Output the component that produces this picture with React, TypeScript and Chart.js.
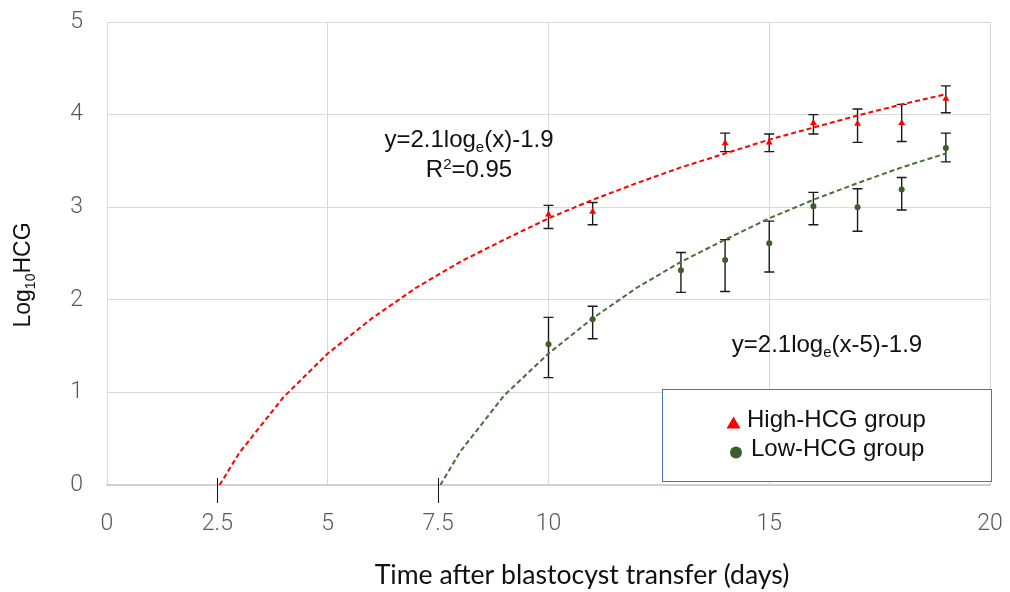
import React, { useEffect, useRef } from "react";
import { Chart, registerables } from "chart.js";
Chart.register(...registerables);

// ---- data ----
const xTickValues = [0, 2.5, 5, 7.5, 10, 15, 20];
const xGridValues = [0, 5, 10, 15, 20];
const xMarkValues = [2.5, 7.5];

const highX = [10, 11, 14, 15, 16, 17, 18, 19];
const highY = [2.92, 2.95, 3.69, 3.7, 3.91, 3.9, 3.91, 4.17];
const highHi = [3.02, 3.05, 3.8, 3.79, 4.0, 4.06, 4.11, 4.31];
const highLo = [2.77, 2.81, 3.6, 3.6, 3.79, 3.7, 3.71, 4.02];

const lowX = [10, 11, 13, 14, 15, 16, 17, 18, 19];
const lowY = [1.52, 1.79, 2.32, 2.43, 2.61, 3.01, 3.0, 3.19, 3.64];
const lowHi = [1.81, 1.93, 2.51, 2.65, 2.85, 3.16, 3.2, 3.32, 3.8];
const lowLo = [1.16, 1.58, 2.08, 2.09, 2.3, 2.81, 2.74, 2.97, 3.49];

const highFitX = [2.55, 3, 4, 5, 6, 7, 8, 9, 10, 11, 12, 13, 14, 15, 16, 17, 18, 19];
const highFitY = [0, 0.35, 0.95, 1.42, 1.8, 2.13, 2.41, 2.65, 2.88, 3.08, 3.26, 3.43, 3.58, 3.73, 3.86, 3.99, 4.11, 4.22];
const lowFitX = [7.55, 8, 9, 10, 11, 12, 13, 14, 15, 16, 17, 18, 19];
const lowFitY = [0, 0.36, 0.97, 1.42, 1.8, 2.13, 2.41, 2.65, 2.88, 3.08, 3.26, 3.43, 3.58];

const highLabel = "High-HCG group";
const lowLabel = "Low-HCG group";
const xTitle = "Time after blastocyst transfer (days)";

const RED = "#FF0000";
const GREEN_PT = "#3B5E2B";
const GREEN_LINE = "#4A6E37";
const SANS = "'Liberation Sans', Arial, sans-serif";
const TITLE_FONT = "Lato, 'Open Sans', sans-serif";
const TICK_FONT = "Roboto, 'Liberation Sans', sans-serif";

type Part = { t: string; sub?: boolean; sup?: boolean };

function drawParts(ctx: CanvasRenderingContext2D, parts: Part[], cx: number, base: number, size: number, subSize: number, color: string) {
  const fontFor = (p: Part) => `${p.sub || p.sup ? subSize : size}px ${SANS}`;
  let total = 0;
  const widths = parts.map((p) => {
    ctx.font = fontFor(p);
    const w = ctx.measureText(p.t).width;
    total += w;
    return w;
  });
  let x = cx - total / 2;
  ctx.fillStyle = color;
  ctx.textAlign = "left";
  ctx.textBaseline = "alphabetic";
  parts.forEach((p, i) => {
    ctx.font = fontFor(p);
    const dy = p.sub ? size * 0.22 : p.sup ? -size * 0.35 : 0;
    ctx.fillText(p.t, x, base + dy);
    x += widths[i];
  });
}

const errorBarPlugin = {
  id: "errorBars",
  beforeDatasetsDraw(chart: any) {
    const { ctx, scales } = chart;
    const xs = scales.x;
    const ys = scales.y;
    const groups = [
      { x: highX, hi: highHi, lo: highLo },
      { x: lowX, hi: lowHi, lo: lowLo },
    ];
    ctx.save();
    ctx.strokeStyle = "#1a1a1a";
    ctx.lineWidth = 1.4;
    groups.forEach((g) => {
      g.x.forEach((xv, i) => {
        const px = xs.getPixelForValue(xv);
        const top = ys.getPixelForValue(g.hi[i]);
        const bot = ys.getPixelForValue(g.lo[i]);
        ctx.beginPath();
        ctx.moveTo(px, top);
        ctx.lineTo(px, bot);
        ctx.moveTo(px - 5, top);
        ctx.lineTo(px + 5, top);
        ctx.moveTo(px - 5, bot);
        ctx.lineTo(px + 5, bot);
        ctx.stroke();
      });
    });
    ctx.restore();
  },
};

const decorPlugin = {
  id: "decor",
  afterDraw(chart: any) {
    const { ctx, scales, chartArea } = chart;
    const xs = scales.x;
    ctx.save();
    // tick marks at 2.5 / 7.5
    ctx.strokeStyle = "#111";
    ctx.lineWidth = 1;
    xMarkValues.forEach((v) => {
      const px = Math.round(xs.getPixelForValue(v)) + 0.5;
      ctx.beginPath();
      ctx.moveTo(px, chartArea.bottom - 7);
      ctx.lineTo(px, chartArea.bottom + 18);
      ctx.stroke();
    });

    // annotations
    drawParts(ctx, [{ t: "y=2.1log" }, { t: "e", sub: true }, { t: "(x)-1.9" }], 469, 147, 24, 15, "#111");
    drawParts(ctx, [{ t: "R" }, { t: "2", sup: true }, { t: "=0.95" }], 469, 177, 24, 15, "#111");
    drawParts(ctx, [{ t: "y=2.1log" }, { t: "e", sub: true }, { t: "(x-5)-1.9" }], 827, 352, 24, 15, "#111");

    // legend
    ctx.fillStyle = "#fff";
    ctx.fillRect(662.5, 389.5, 329, 92);
    ctx.strokeStyle = "#4472C4";
    ctx.lineWidth = 1;
    ctx.strokeRect(662.5, 389.5, 329, 92);
    ctx.fillStyle = RED;
    ctx.beginPath();
    ctx.moveTo(733.5, 416.5);
    ctx.lineTo(740.5, 428.5);
    ctx.lineTo(726.5, 428.5);
    ctx.closePath();
    ctx.fill();
    ctx.fillStyle = GREEN_PT;
    ctx.beginPath();
    ctx.arc(736, 452.5, 6, 0, Math.PI * 2);
    ctx.fill();
    ctx.fillStyle = "#111";
    ctx.font = `24px ${SANS}`;
    ctx.textAlign = "left";
    ctx.textBaseline = "alphabetic";
    ctx.fillText(highLabel, 747, 427);
    ctx.fillText(lowLabel, 751, 456);

    // y title
    ctx.save();
    ctx.translate(30, 275);
    ctx.rotate(-Math.PI / 2);
    drawParts(ctx, [{ t: "Log" }, { t: "10", sub: true }, { t: "HCG" }], 0, 0, 23, 14, "#111");
    ctx.restore();

    // x title (fit to measured width)
    let size = 26;
    ctx.font = `${size}px ${TITLE_FONT}`;
    const w = ctx.measureText(xTitle).width;
    size = size * (415 / w);
    ctx.font = `${size}px ${TITLE_FONT}`;
    ctx.fillStyle = "#111";
    ctx.textAlign = "center";
    ctx.fillText(xTitle, 582, 584);
    ctx.restore();
  },
};

function zeroPad(scale: any) {
  scale.paddingTop = 0;
  scale.paddingBottom = 0;
  scale.paddingLeft = 0;
  scale.paddingRight = 0;
}

export default function App() {
  const ref = useRef<HTMLCanvasElement | null>(null);
  useEffect(() => {
    if (!ref.current) return;
    const chart = new Chart(ref.current, {
      type: "scatter",
      data: {
        datasets: [
          {
            label: highLabel,
            data: highX.map((x, i) => ({ x, y: highY[i] })),
            pointStyle: "triangle",
            pointRadius: 4,
            backgroundColor: RED,
            borderColor: RED,
            borderWidth: 0,
            showLine: false,
          },
          {
            label: lowLabel,
            data: lowX.map((x, i) => ({ x, y: lowY[i] })),
            pointStyle: "circle",
            pointRadius: 3,
            backgroundColor: GREEN_PT,
            borderColor: GREEN_PT,
            borderWidth: 0,
            showLine: false,
          },
          {
            label: "high fit",
            data: highFitX.map((x, i) => ({ x, y: highFitY[i] })),
            showLine: true,
            borderColor: RED,
            borderWidth: 2,
            borderDash: [5, 3],
            pointRadius: 0,
            tension: 0,
          },
          {
            label: "low fit",
            data: lowFitX.map((x, i) => ({ x, y: lowFitY[i] })),
            showLine: true,
            borderColor: GREEN_LINE,
            borderWidth: 2,
            borderDash: [5, 3],
            pointRadius: 0,
            tension: 0,
          },
        ],
      },
      options: {
        responsive: false,
        animation: false,
        devicePixelRatio: 1,
        layout: { padding: { left: 0, top: 22, right: 20, bottom: 0 } },
        plugins: { legend: { display: false }, tooltip: { enabled: false } },
        scales: {
          x: {
            type: "linear",
            min: 0,
            max: 20,
            afterBuildTicks: (scale: any) => {
              scale.ticks = xTickValues.map((v) => ({ value: v }));
            },
            afterFit: (scale: any) => {
              scale.height = 107;
              zeroPad(scale);
            },
            grid: {
              color: (c: any) => (xGridValues.includes(c.tick?.value) ? "#d9d9d9" : "rgba(0,0,0,0)"),
              lineWidth: 1,
              drawTicks: false,
            },
            border: { display: true, color: "#d0d0d0", width: 2 },
            ticks: {
              padding: 25,
              color: "#595959",
              font: { family: TICK_FONT, size: 23, weight: "300" as any },
              callback: (v: any) => String(v),
              maxRotation: 0,
              autoSkip: false,
            },
          },
          y: {
            min: 0,
            max: 5,
            afterFit: (scale: any) => {
              scale.width = 107;
              zeroPad(scale);
            },
            grid: { color: "#d9d9d9", lineWidth: 1, drawTicks: false },
            border: { display: true, color: "#d9d9d9", width: 1 },
            ticks: {
              stepSize: 1,
              padding: 24,
              color: "#595959",
              font: { family: TICK_FONT, size: 23, weight: "300" as any },
            },
          },
        },
      },
      plugins: [errorBarPlugin, decorPlugin],
    });
    return () => chart.destroy();
  }, []);
  return (
    <div style={{ position: "absolute", left: 0, top: 0, width: 1010, height: 592, background: "#fff" }}>
      <canvas ref={ref} width={1010} height={592} style={{ width: 1010, height: 592 }} />
    </div>
  );
}
